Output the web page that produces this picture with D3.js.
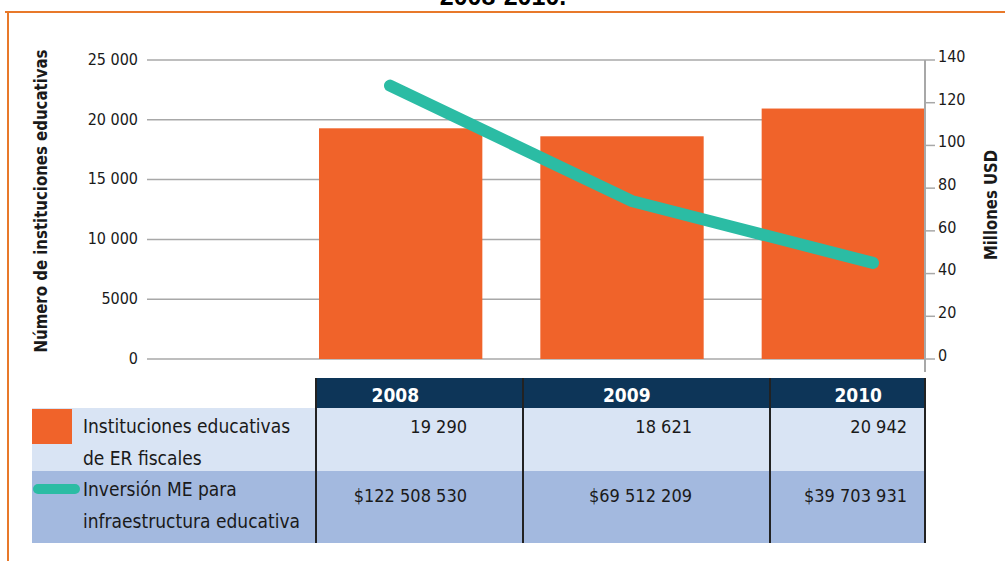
<!DOCTYPE html>
<html>
<head>
<meta charset="utf-8">
<script src="https://cdn.jsdelivr.net/npm/d3@7"></script>
<style>
  body { margin: 0; background: #fff; }
  svg { display: block; }
  text { font-family: 'Liberation Sans Narrow', 'DejaVu Sans Condensed', sans-serif; fill: #1a1a1a; }
</style>
</head>
<body>
<svg id="chart" width="1005" height="561"></svg>
<script>
// data
const years = ['2008', '2009', '2010'];
const institutions = [19290, 18621, 20942];
// investment line as drawn in the figure (millones USD)
const inversionMillones = [128, 74, 45];
const institutionsLabels = ['19 290', '18 621', '20 942'];
const inversionLabels = ['$122 508 530', '$69 512 209', '$39 703 931'];
const leftTicks = [0, 5000, 10000, 15000, 20000, 25000];
const leftTickLabels = ['0', '5000', '10 000', '15 000', '20 000', '25 000'];
const rightTicks = [0, 20, 40, 60, 80, 100, 120, 140];

const orange = '#f0632a';
const teal = '#2bbca4';
const navy = '#0d3558';

const svg = d3.select('#chart');

// frame + cut title
svg.append('text').attr('x', 503).attr('y', 5).attr('text-anchor', 'middle')
    .style('font-family', 'Liberation Sans, Arial, sans-serif')
    .style('font-weight', 'bold').style('font-size', '25px').style('fill', '#000')
    .text('2008-2010.');
svg.append('line').attr('x1', 5).attr('x2', 1005).attr('y1', 12).attr('y2', 12)
    .attr('stroke', '#e8792a').attr('stroke-width', 2);
svg.append('line').attr('x1', 8).attr('x2', 8).attr('y1', 11).attr('y2', 561)
    .attr('stroke', '#e8792a').attr('stroke-width', 2);

// scales
const yLeft = d3.scaleLinear().domain([0, 25000]).range([359, 60]);
const yRight = d3.scaleLinear().domain([0, 140]).range([359, 60]);
const x = d3.scaleBand().domain(years).range([290, 954]).paddingInner(0.262).paddingOuter(0.131);
const xLine = d3.scalePoint().domain(years).range([390, 873]);

// gridlines + left ticks
const gl = svg.append('g');
gl.selectAll('line').data(leftTicks).enter().append('line')
    .attr('x1', 147).attr('x2', 925)
    .attr('y1', d => yLeft(d)).attr('y2', d => yLeft(d))
    .attr('stroke', '#a8a8a8').attr('stroke-width', 1.5);
gl.selectAll('text').data(leftTicks).enter().append('text')
    .attr('x', 138).attr('y', d => yLeft(d)).attr('dy', '0.3em')
    .attr('text-anchor', 'end').style('font-size', '16px')
    .text((d, i) => leftTickLabels[i]);

svg.append('text')
    .attr('transform', 'translate(47,201) rotate(-90)')
    .attr('text-anchor', 'middle').style('font-size', '18px').style('font-weight', 'bold')
    .attr('textLength', 303).attr('lengthAdjust', 'spacingAndGlyphs')
    .text('Número de instituciones educativas');

// bars
svg.append('g').selectAll('rect').data(institutions).enter().append('rect')
    .attr('x', (d, i) => x(years[i]))
    .attr('width', x.bandwidth())
    .attr('y', d => yLeft(d))
    .attr('height', d => yLeft(0) - yLeft(d))
    .attr('fill', orange);

// right axis
const ra = svg.append('g');
ra.append('line').attr('x1', 925).attr('x2', 925).attr('y1', 60).attr('y2', 372)
    .attr('stroke', '#a8a8a8').attr('stroke-width', 2);
ra.selectAll('line.tk').data(rightTicks).enter().append('line').attr('class', 'tk')
    .attr('x1', 925).attr('x2', 935)
    .attr('y1', d => yRight(d)).attr('y2', d => yRight(d))
    .attr('stroke', '#a8a8a8').attr('stroke-width', 1.5);
ra.selectAll('text').data(rightTicks).enter().append('text')
    .attr('x', 938).attr('y', d => yRight(d) - 3).attr('dy', '0.3em')
    .style('font-size', '16px').text(d => d);
svg.append('text')
    .attr('transform', 'translate(997,205) rotate(-90)')
    .attr('text-anchor', 'middle').style('font-size', '18px').style('font-weight', 'bold')
    .attr('textLength', 110).attr('lengthAdjust', 'spacingAndGlyphs')
    .text('Millones USD');

// line
svg.append('path')
    .datum(inversionMillones)
    .attr('d', d3.line().x((d, i) => xLine(years[i])).y(d => yRight(d)))
    .attr('fill', 'none').attr('stroke', teal).attr('stroke-width', 12)
    .attr('stroke-linecap', 'round').attr('stroke-linejoin', 'round');

// table
const colEdges = [316, 523, 770, 925];
const valueRight = [467, 692, 907];
const tb = svg.append('g');
tb.append('rect').attr('x', 316).attr('y', 378).attr('width', 609).attr('height', 30).attr('fill', navy);
tb.append('rect').attr('x', 32).attr('y', 408).attr('width', 893).attr('height', 63).attr('fill', '#d9e4f4');
tb.append('rect').attr('x', 32).attr('y', 471).attr('width', 893).attr('height', 72).attr('fill', '#a3b9df');
tb.selectAll('line').data(colEdges).enter().append('line')
    .attr('x1', d => d).attr('x2', d => d).attr('y1', 378).attr('y2', 543)
    .attr('stroke', '#222').attr('stroke-width', 2);

tb.selectAll('text.yr').data(years).enter().append('text').attr('class', 'yr')
    .attr('x', (d, i) => (x(d) + x.bandwidth() / 2 + xLine(d)) / 2).attr('y', 402)
    .attr('text-anchor', 'middle').style('font-size', '19px').style('font-weight', 'bold')
    .style('fill', '#fff').text(d => d);
tb.selectAll('text.inst').data(institutionsLabels).enter().append('text').attr('class', 'inst')
    .attr('x', (d, i) => valueRight[i]).attr('y', 433).attr('text-anchor', 'end')
    .style('font-size', '18px').text(d => d);
tb.selectAll('text.inv').data(inversionLabels).enter().append('text').attr('class', 'inv')
    .attr('x', (d, i) => valueRight[i]).attr('y', 502).attr('text-anchor', 'end')
    .style('font-size', '18px').text(d => d);

// legend
tb.append('rect').attr('x', 32).attr('y', 409).attr('width', 40).attr('height', 35).attr('fill', orange);
tb.append('line').attr('x1', 38).attr('x2', 75).attr('y1', 489).attr('y2', 489)
    .attr('stroke', teal).attr('stroke-width', 10).attr('stroke-linecap', 'round');
const legendText = [
    ['Instituciones educativas', 433],
    ['de ER fiscales', 465],
    ['Inversión ME para', 496],
    ['infraestructura educativa', 528]
];
tb.selectAll('text.lg').data(legendText).enter().append('text').attr('class', 'lg')
    .attr('x', 83).attr('y', d => d[1]).style('font-size', '19px').text(d => d[0]);
</script>
</body>
</html>
